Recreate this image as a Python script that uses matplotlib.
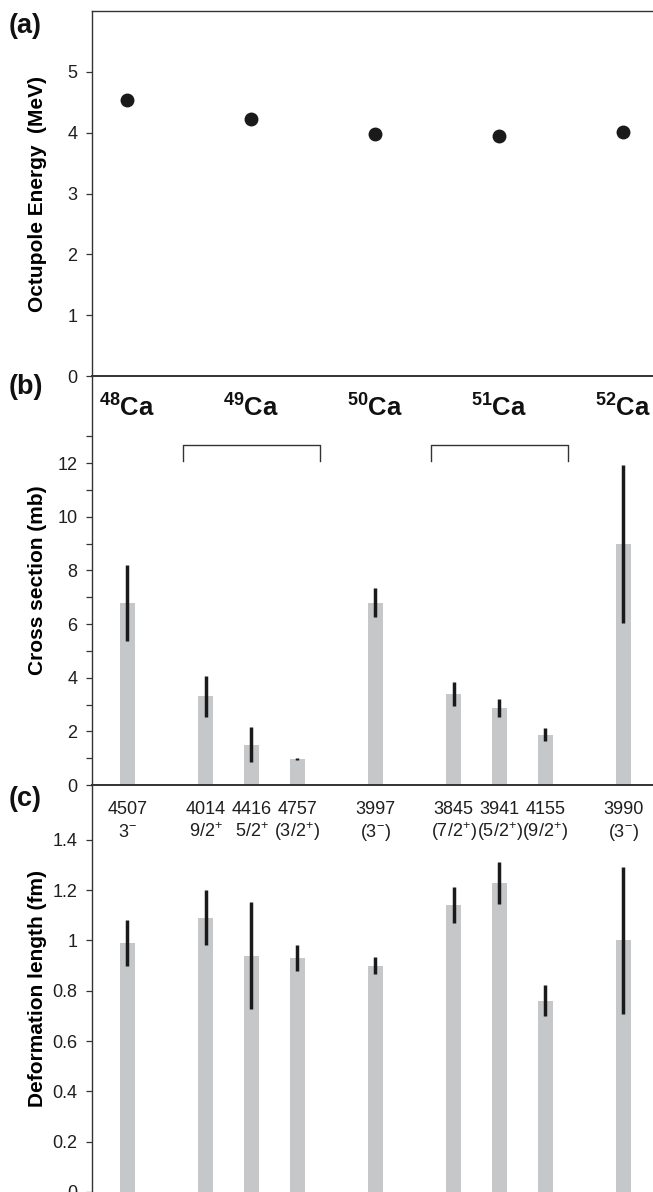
import numpy as np
import matplotlib
matplotlib.use('Agg')
import matplotlib.pyplot as plt
from matplotlib.ticker import FixedLocator, FormatStrFormatter

plt.rcParams['font.family'] = ['Liberation Sans', 'DejaVu Sans']
plt.rcParams['mathtext.fontset'] = 'custom'
plt.rcParams['mathtext.rm'] = 'Liberation Sans'
plt.rcParams['mathtext.it'] = 'Liberation Sans'
plt.rcParams['mathtext.bf'] = 'Liberation Sans:bold'

# (a) octupole energies per isotope
isotopes = ['48', '49', '50', '51', '52']
isotope_pos = [0, 1, 2, 3, 4]
octupole_energy = [4.54, 4.23, 3.98, 3.94, 4.01]

# (b), (c) individual states
state_pos = [0, 0.63, 1.0, 1.37, 2.0, 2.63, 3.0, 3.37, 4.0]
state_energy = ['4507', '4014', '4416', '4757', '3997', '3845', '3941', '4155', '3990']
state_spin = ['3$^{-}$', '9/2$^{+}$', '5/2$^{+}$', '(3/2$^{+}$)', '(3$^{-}$)',
              '(7/2$^{+}$)', '(5/2$^{+}$)', '(9/2$^{+}$)', '(3$^{-}$)']
cross_section = [6.8, 3.3, 1.5, 0.97, 6.8, 3.4, 2.87, 1.87, 9.0]
cross_err = [1.42, 0.76, 0.66, 0.05, 0.55, 0.44, 0.34, 0.24, 2.95]
deform_length = [0.99, 1.09, 0.94, 0.93, 0.90, 1.14, 1.228, 0.761, 1.0]
deform_err = [0.092, 0.11, 0.212, 0.053, 0.033, 0.072, 0.083, 0.062, 0.294]

# multiplets bracketed in (b)
bracket_centers = [1.0, 3.0]

spine_col = '#333333'
bar_col = '#c6c7c8'
err_col = '#1a1a1a'
xlim = (-0.286, 4.238)

fig = plt.figure(figsize=(6.53, 11.92), dpi=100)
left = 92 / 653
width = 1 - left
axa = fig.add_axes([left, 0.68456, width, 0.30621])
axb = fig.add_axes([left, 0.34144, width, 0.34312])
axc = fig.add_axes([left, 0.0, width, 0.34144])


def style(ax):
    ax.set_xlim(*xlim)
    ax.set_xticks([])
    ax.spines['right'].set_visible(False)
    for s in ['left', 'top', 'bottom']:
        ax.spines[s].set_color(spine_col)
        ax.spines[s].set_linewidth(1.0)
    ax.tick_params(axis='y', which='both', direction='out', length=4.5, width=0.9,
                   color=spine_col, labelsize=13, labelcolor='#1e1e1e', pad=6)
    ax.yaxis.set_major_formatter(FormatStrFormatter('%g'))
    ax.patch.set_alpha(0)


# (a)
style(axa)
axa.plot(isotope_pos, octupole_energy, 'o', color=err_col, markersize=9)
axa.set_ylim(0, 6)
axa.yaxis.set_major_locator(FixedLocator([0, 1, 2, 3, 4, 5]))
axa.spines['bottom'].set_linewidth(1.4)
axa.set_ylabel('Octupole Energy  (MeV)', fontsize=15, fontweight='bold')

# (b)
style(axb)
axb.spines['top'].set_visible(False)
axb.spines['bottom'].set_linewidth(1.4)
axb.bar(state_pos, cross_section, width=0.121, color=bar_col, zorder=1)
axb.errorbar(state_pos, cross_section, yerr=cross_err, fmt='none', ecolor=err_col,
             elinewidth=2.5, capsize=0, zorder=2)
axb.set_ylim(0, 15.25)
axb.yaxis.set_major_locator(FixedLocator(np.arange(0, 13, 2)))
axb.yaxis.set_minor_locator(FixedLocator(np.arange(1, 14, 2)))
axb.set_ylabel('Cross section (mb)', fontsize=15, fontweight='bold')
for pos, iso in zip(isotope_pos, isotopes):
    axb.text(pos, 13.73, r'$^{\mathbf{' + iso + '}}$Ca', ha='center', va='baseline',
             fontsize=18.5, fontweight='bold', color='#111111')
for c in bracket_centers:
    axb.plot([c - 0.55, c - 0.55, c + 0.55, c + 0.55], [12.09, 12.66, 12.66, 12.09],
             color=spine_col, lw=1.0)

# (c)
style(axc)
axc.spines['top'].set_visible(False)
axc.spines['bottom'].set_visible(False)
axc.bar(state_pos, deform_length, width=0.121, color=bar_col, zorder=1)
axc.errorbar(state_pos, deform_length, yerr=deform_err, fmt='none', ecolor=err_col,
             elinewidth=2.5, capsize=0, zorder=2)
axc.set_ylim(0, 1.618)
axc.yaxis.set_major_locator(FixedLocator([0, 0.2, 0.4, 0.6, 0.8, 1.0, 1.2, 1.4]))
axc.set_ylabel('Deformation length (fm)', fontsize=15, fontweight='bold')
for pos, e, s in zip(state_pos, state_energy, state_spin):
    axc.text(pos, 1.502, e, ha='center', va='baseline', fontsize=13, color='#1e1e1e')
    axc.text(pos, 1.413, s, ha='center', va='baseline', fontsize=13, color='#1e1e1e')

for ax in (axa, axb, axc):
    ax.yaxis.set_label_coords(-0.081, 0.5)

for lab, y in [('(a)', 26), ('(b)', 387), ('(c)', 799)]:
    fig.text(9 / 653, 1 - y / 1192, lab, ha='left', va='center', fontsize=19.5,
             fontweight='bold', color='#111111')

fig.savefig('out.png', dpi=100)
